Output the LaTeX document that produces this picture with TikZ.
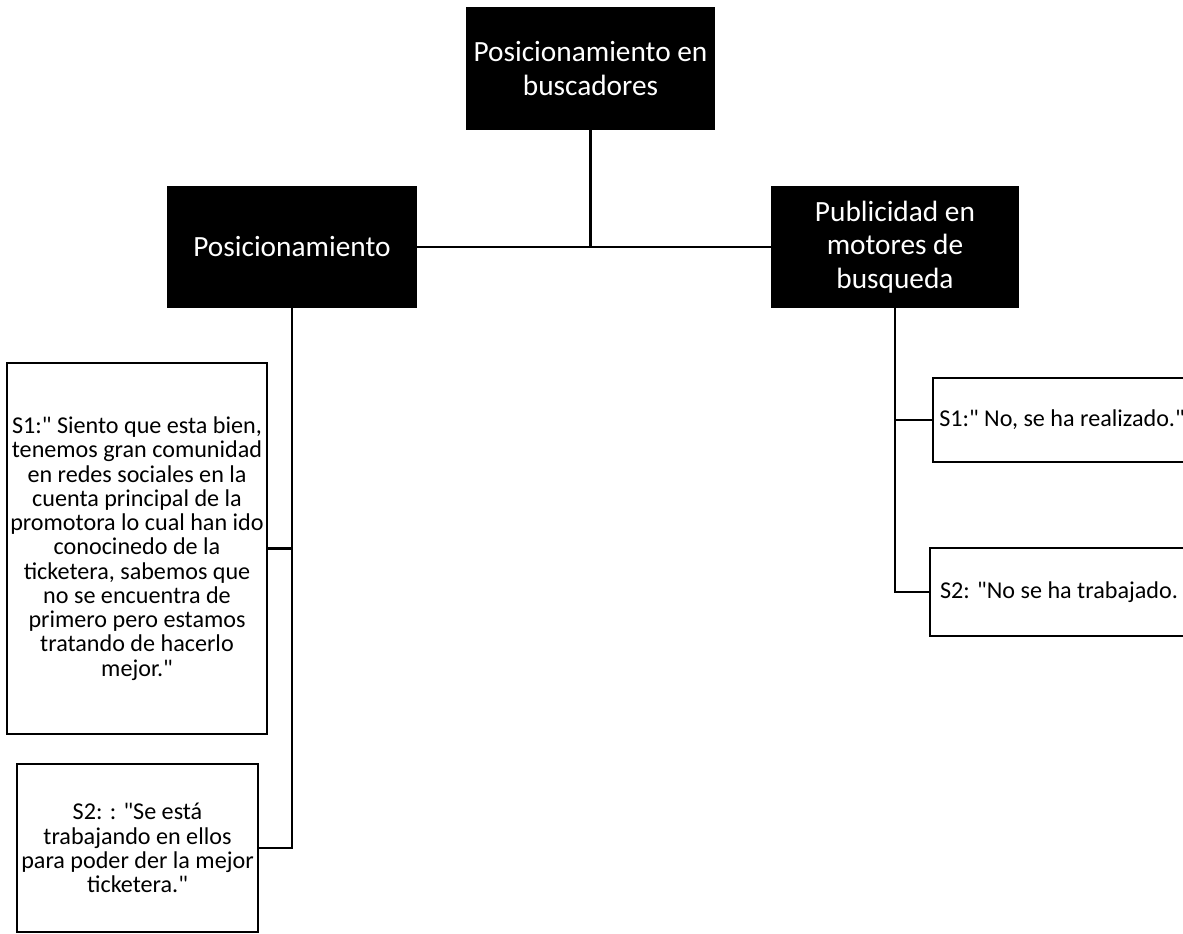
\documentclass[tikz,border=0pt]{standalone}
\usepackage{fontspec}
\setmainfont{Carlito}[Ligatures=TeXOff]
\usepackage{tikz}

\begin{document}
\begin{tikzpicture}[x=0.75pt,y=-0.75pt,
  head/.style={fill=black,text=white,inner sep=0pt,align=center,
    font=\fontsize{22}{25}\selectfont},
  quote/.style={draw=black,line width=1.6pt,fill=white,inner sep=0pt,align=center,
    font=\fontsize{18.1}{18.2}\selectfont},
  conn/.style={line width=2.2pt}]
  \clip (0,0) rectangle (1183,933);
  \node[head,minimum width=187pt,minimum height=92pt] (top) at (590.5,68.5)
    {Posicionamiento en\\buscadores};
  \node[head,minimum width=187.5pt,minimum height=91.5pt] (posic) at (292,247)
    {Posicionamiento};
  \node[head,minimum width=186pt,minimum height=91.5pt] (publ) at (895,247)
    {Publicidad en\\motores de\\busqueda};
  \node[quote,minimum width=195pt,minimum height=278pt] (s1l) at (137,548.5)
    {S1:" Siento que esta bien,\\tenemos gran comunidad\\en redes sociales en la\\cuenta principal de la\\promotora lo cual han ido\\conocinedo de la\\ticketera, sabemos que\\no se encuentra de\\primero pero estamos\\tratando de hacerlo\\mejor."};
  \node[quote,minimum width=181pt,minimum height=126pt] (s2l) at (137.5,848)
    {S2: : "Se está\\trabajando en ellos\\para poder der la mejor\\ticketera."};
  \node[quote,minimum width=194pt,minimum height=63pt] (s1r) at (1062,420)
    {S1:" No, se ha realizado."};
  \node[quote,minimum width=194pt,minimum height=66pt] (s2r) at (1059,592)
    {S2: "No se ha trabajado.};
  \draw[conn] (posic.east) -- (publ.west);
  \draw[conn] (top.south) -- (top.south |- posic.east);
  \draw[conn] (posic.south) |- (s2l.east);
  \draw[conn] (s1l.east) -- (s1l.east -| posic.south);
  \draw[conn] (publ.south) |- (s2r.west);
  \draw[conn] (s1r.west) -- (s1r.west -| publ.south);
\end{tikzpicture}
\end{document}
